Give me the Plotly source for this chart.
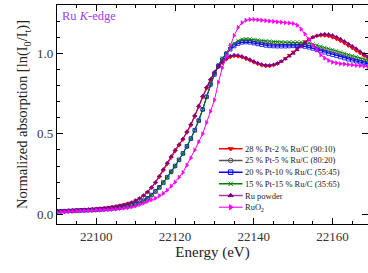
import plotly.graph_objects as go

energy = [
    22090, 22091, 22092, 22093, 22094, 22095, 22096, 22097, 22098, 22099,
    22100, 22101, 22102, 22103, 22104, 22105, 22106, 22107, 22108, 22109,
    22110, 22111, 22112, 22113, 22114, 22115, 22116, 22117, 22118, 22119,
    22120, 22121, 22122, 22123, 22124, 22125, 22126, 22127, 22128, 22129,
    22130, 22131, 22132, 22133, 22134, 22135, 22136, 22137, 22138, 22139,
    22140, 22141, 22142, 22143, 22144, 22145, 22146, 22147, 22148, 22149,
    22150, 22151, 22152, 22153, 22154, 22155, 22156, 22157, 22158, 22159,
    22160, 22161, 22162, 22163, 22164, 22165, 22166, 22167, 22168, 22169,
]

pt28_ru2 = [
    0.020, 0.021, 0.022, 0.024, 0.025, 0.027, 0.028, 0.030, 0.031, 0.033,
    0.035, 0.037, 0.040, 0.042, 0.046, 0.050, 0.055, 0.060, 0.066, 0.074,
    0.085, 0.098, 0.115, 0.136, 0.163, 0.195, 0.232, 0.272, 0.312, 0.352,
    0.392, 0.428, 0.463, 0.507, 0.552, 0.606, 0.666, 0.726, 0.782, 0.832,
    0.878, 0.915, 0.940, 0.962, 0.976, 0.982, 0.980, 0.975, 0.965, 0.955,
    0.943, 0.933, 0.925, 0.920, 0.920, 0.925, 0.935, 0.950, 0.968, 0.988,
    1.008, 1.030, 1.052, 1.072, 1.088, 1.100, 1.107, 1.110, 1.110, 1.106,
    1.098, 1.088, 1.076, 1.062, 1.047, 1.032, 1.016, 1.000, 0.984, 0.970,
]

pt25_ru5 = [
    0.018, 0.019, 0.020, 0.021, 0.022, 0.023, 0.024, 0.025, 0.026, 0.027,
    0.028, 0.030, 0.032, 0.034, 0.036, 0.039, 0.042, 0.046, 0.050, 0.055,
    0.062, 0.071, 0.083, 0.098, 0.118, 0.140, 0.165, 0.195, 0.228, 0.262,
    0.298, 0.336, 0.376, 0.420, 0.468, 0.520, 0.580, 0.650, 0.730, 0.808,
    0.872, 0.926, 0.966, 1.000, 1.032, 1.055, 1.070, 1.078, 1.080, 1.078,
    1.074, 1.070, 1.066, 1.063, 1.060, 1.058, 1.057, 1.057, 1.057, 1.058,
    1.058, 1.058, 1.057, 1.054, 1.049, 1.042, 1.034, 1.026, 1.018, 1.010,
    1.003, 0.996, 0.989, 0.982, 0.975, 0.968, 0.962, 0.956, 0.950, 0.945,
]

pt20_ru10 = [
    0.018, 0.019, 0.020, 0.021, 0.022, 0.023, 0.024, 0.025, 0.026, 0.027,
    0.028, 0.030, 0.032, 0.034, 0.036, 0.039, 0.042, 0.046, 0.050, 0.056,
    0.063, 0.072, 0.085, 0.100, 0.120, 0.143, 0.168, 0.198, 0.231, 0.265,
    0.301, 0.339, 0.379, 0.423, 0.471, 0.523, 0.583, 0.652, 0.730, 0.806,
    0.868, 0.920, 0.960, 0.995, 1.025, 1.045, 1.060, 1.068, 1.070, 1.068,
    1.063, 1.058, 1.053, 1.049, 1.046, 1.045, 1.044, 1.044, 1.044, 1.045,
    1.046, 1.046, 1.045, 1.042, 1.037, 1.030, 1.022, 1.014, 1.006, 0.998,
    0.991, 0.984, 0.977, 0.970, 0.963, 0.957, 0.951, 0.945, 0.940, 0.935,
]

pt15_ru15 = [
    0.018, 0.019, 0.020, 0.021, 0.022, 0.023, 0.024, 0.025, 0.026, 0.027,
    0.028, 0.030, 0.032, 0.034, 0.036, 0.039, 0.042, 0.046, 0.050, 0.055,
    0.062, 0.071, 0.083, 0.098, 0.118, 0.140, 0.165, 0.195, 0.228, 0.262,
    0.298, 0.336, 0.376, 0.420, 0.468, 0.520, 0.580, 0.650, 0.730, 0.810,
    0.875, 0.930, 0.970, 1.005, 1.038, 1.062, 1.078, 1.087, 1.090, 1.089,
    1.086, 1.083, 1.080, 1.077, 1.075, 1.073, 1.072, 1.071, 1.070, 1.070,
    1.070, 1.070, 1.069, 1.067, 1.063, 1.057, 1.050, 1.043, 1.036, 1.029,
    1.022, 1.015, 1.008, 1.000, 0.992, 0.985, 0.978, 0.970, 0.963, 0.957,
]

ru_powder = [
    0.020, 0.021, 0.022, 0.024, 0.025, 0.027, 0.028, 0.030, 0.031, 0.033,
    0.035, 0.037, 0.040, 0.042, 0.046, 0.050, 0.055, 0.060, 0.067, 0.075,
    0.087, 0.100, 0.118, 0.140, 0.168, 0.200, 0.238, 0.280, 0.320, 0.360,
    0.400, 0.435, 0.470, 0.515, 0.560, 0.615, 0.675, 0.735, 0.790, 0.840,
    0.885, 0.920, 0.945, 0.970, 0.983, 0.990, 0.988, 0.982, 0.972, 0.962,
    0.950, 0.940, 0.932, 0.927, 0.926, 0.930, 0.938, 0.950, 0.965, 0.982,
    1.000, 1.022, 1.045, 1.066, 1.085, 1.100, 1.110, 1.117, 1.120, 1.118,
    1.112, 1.102, 1.090, 1.075, 1.060, 1.045, 1.030, 1.012, 0.995, 0.980,
]

ruo2 = [
    0.012, 0.013, 0.015, 0.017, 0.018, 0.020, 0.021, 0.022, 0.023, 0.024,
    0.025, 0.026, 0.027, 0.028, 0.030, 0.032, 0.035, 0.038, 0.041, 0.045,
    0.052, 0.060, 0.069, 0.080, 0.090, 0.100, 0.115, 0.130, 0.150, 0.175,
    0.200, 0.230, 0.260, 0.305, 0.350, 0.400, 0.450, 0.500, 0.570, 0.640,
    0.710, 0.820, 0.910, 0.980, 1.050, 1.110, 1.160, 1.190, 1.205, 1.210,
    1.210, 1.208, 1.205, 1.203, 1.200, 1.198, 1.195, 1.193, 1.190, 1.188,
    1.185, 1.175, 1.150, 1.120, 1.085, 1.050, 1.020, 0.990, 0.970, 0.955,
    0.945, 0.940, 0.935, 0.933, 0.930, 0.928, 0.925, 0.923, 0.920, 0.918,
]

series_names = [
    "28 % Pt-2 % Ru/C (90:10)",
    "25 % Pt-5 % Ru/C (80:20)",
    "20 % Pt-10 % Ru/C (55:45)",
    "15 % Pt-15 % Ru/C (35:65)",
    "Ru powder",
    "RuO<sub>2</sub>",
]
series_values = [pt28_ru2, pt25_ru5, pt20_ru10, pt15_ru15, ru_powder, ruo2]
series_colors = ["#FF0000", "#555555", "#0000FF", "#008000", "#800080", "#FF00FF"]
legend_line_colors = ["#FF0000", "#555555", "#0000FF", "#008000", "#A040A0", "#FF40FF"]
series_symbols = ["triangle-down", "circle-open", "square-open", "x-thin-open",
                  "triangle-up", "triangle-right"]

x_ticks = [22100, 22120, 22140, 22160]
y_ticks = [0.0, 0.5, 1.0]

FONT = "Liberation Serif"

fig = go.Figure()

for name, vals, col, sym in zip(series_names, series_values, series_colors, series_symbols):
    fig.add_trace(go.Scatter(
        x=energy, y=vals, mode="lines+markers", name=name,
        line=dict(color=col, width=1),
        marker=dict(symbol=sym, size=3.5, color=col,
                    line=dict(color=col, width=0.8)),
        showlegend=False, xaxis="x", yaxis="y",
    ))

# compact legend drawn in its own small axes
for i, (name, col, lcol, sym) in enumerate(zip(series_names, series_colors,
                                               legend_line_colors, series_symbols)):
    fig.add_trace(go.Scatter(
        x=[0, 0.16], y=[i, i], mode="lines",
        line=dict(color=lcol, width=1.5), showlegend=False,
        hoverinfo="skip", xaxis="x2", yaxis="y2",
    ))
    fig.add_trace(go.Scatter(
        x=[0.08], y=[i], mode="markers",
        marker=dict(symbol=sym, size=4.5, color=col, line=dict(color=col, width=1)),
        showlegend=False, hoverinfo="skip", xaxis="x2", yaxis="y2",
    ))
    fig.add_annotation(
        text=name, xref="x2", yref="y2", x=0.165, y=i,
        xanchor="left", yanchor="middle", showarrow=False,
        font=dict(family=FONT, size=8.5, color="#222222"),
    )

fig.add_annotation(
    text="Ru <i>K</i>-edge", xref="paper", yref="paper",
    x=0.01, y=0.95, xanchor="left", yanchor="middle", showarrow=False,
    font=dict(family=FONT, size=12.5, color="#A040F0"),
)

fig.update_layout(
    width=368, height=273,
    margin=dict(l=57, r=0, t=5, b=49),
    paper_bgcolor="white", plot_bgcolor="white",
    font=dict(family=FONT, size=13, color="#333333"),
    xaxis=dict(
        range=[22090, 22169], tickvals=x_ticks, tickformat="d", ticks="inside",
        ticklen=6, tickwidth=1, tickcolor="black", showline=True,
        linecolor="black", linewidth=1.2, mirror="allticks", showgrid=False,
        zeroline=False,
        minor=dict(dtick=5, tick0=22090, ticks="inside", ticklen=3,
                   tickcolor="black", showgrid=False),
        tickfont=dict(family=FONT, size=13, color="#333333"),
        title=dict(text="Energy (eV)", font=dict(family=FONT, size=15, color="#222222"),
                   standoff=2),
    ),
    yaxis=dict(
        range=[-0.06, 1.3], tickvals=y_ticks, tickformat=".1f", ticks="inside",
        ticklen=6, tickwidth=1, tickcolor="black", showline=True,
        linecolor="black", linewidth=1.2, mirror="allticks", showgrid=False,
        zeroline=False,
        minor=dict(dtick=0.1, tick0=0, ticks="inside", ticklen=3,
                   tickcolor="black", showgrid=False),
        tickfont=dict(family=FONT, size=13, color="#333333"),
        title=dict(text="Normalized absorption [ln(I<sub>0</sub>/I<sub>t</sub>)]",
                   font=dict(family=FONT, size=14.5, color="#222222"), standoff=5),
    ),
    xaxis2=dict(domain=[0.52, 1.0], range=[0, 1], anchor="y2", visible=False,
                fixedrange=True),
    yaxis2=dict(domain=[0.05, 0.37], range=[5.5, -0.5], anchor="x2", visible=False,
                fixedrange=True),
)

fig.write_html(
    "out.html",
    config={"displayModeBar": False, "staticPlot": True},
    post_script="document.body.style.margin='0';document.body.style.padding='0';",
)
